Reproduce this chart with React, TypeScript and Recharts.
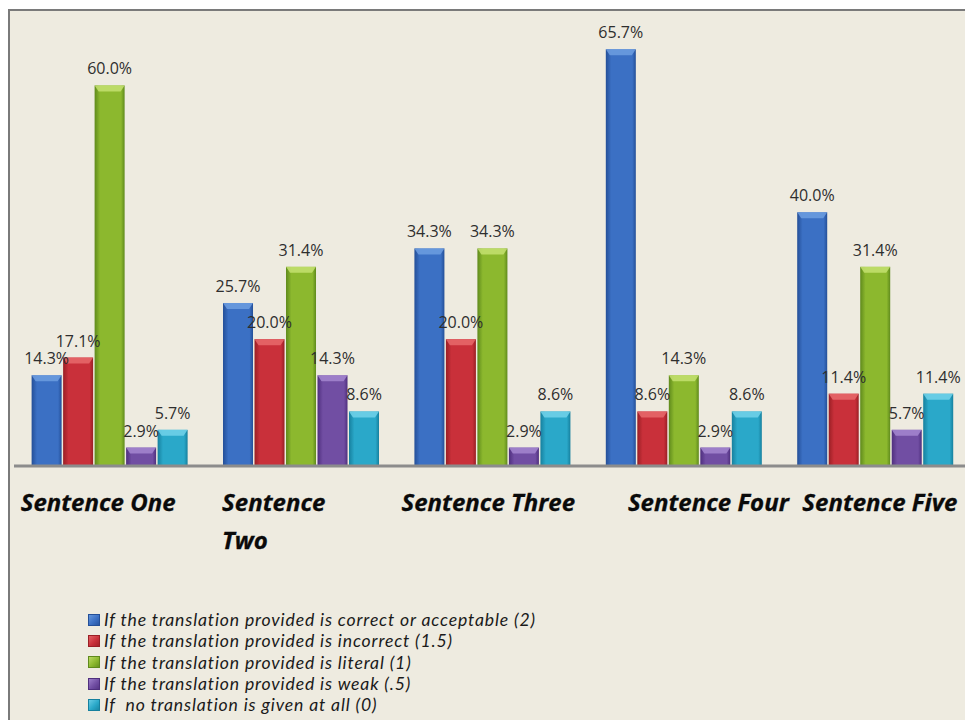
import { BarChart, Bar, XAxis, YAxis, LabelList } from "recharts";

const categories = ["Sentence One", "Sentence Two", "Sentence Three", "Sentence Four", "Sentence Five"];
const correct = [14.3, 25.7, 34.3, 65.7, 40.0];
const incorrect = [17.1, 20.0, 20.0, 8.6, 11.4];
const literal = [60.0, 31.4, 34.3, 14.3, 31.4];
const weak = [2.9, 14.3, 2.9, 2.9, 5.7];
const noTranslation = [5.7, 8.6, 8.6, 8.6, 11.4];

const seriesNames = [
  "If the translation provided is correct or acceptable (2)",
  "If the translation provided is incorrect (1.5)",
  "If the translation provided is literal (1)",
  "If the translation provided is weak (.5)",
  "If  no translation is given at all (0)",
];

const data = categories.map((name, i) => ({
  name,
  correct: correct[i],
  incorrect: incorrect[i],
  literal: literal[i],
  weak: weak[i],
  none: noTranslation[i],
}));

const series = [
  { key: "correct", id: "gBlue", dark: "#244f98", mid: "#3b70c4", light: "#6d9de0" },
  { key: "incorrect", id: "gRed", dark: "#9a1f25", mid: "#c9303a", light: "#e86a6c" },
  { key: "literal", id: "gGreen", dark: "#5f8a1c", mid: "#8cb82e", light: "#c4e070" },
  { key: "weak", id: "gPurple", dark: "#4f2f7e", mid: "#714ea3", light: "#a487d0" },
  { key: "none", id: "gCyan", dark: "#16809e", mid: "#2aa8c9", light: "#72d2ea" },
];

// nudges to copy the uneven label placement of the original
const tickShift = [-89, -79, -91, -56, -73];

const SentenceTick = (props: any) => {
  const { x, y, payload, index } = props;
  const words = payload.value.split(" ");
  const lines = index === 1 ? [words[0], words[1]] : [payload.value];
  return (
    <text
      x={x + tickShift[index]}
      y={y + 45}
      fill="#0a0a0a"
      stroke="#0a0a0a"
      strokeWidth={0.3}
      fontFamily="'Open Sans', sans-serif"
      fontWeight={700}
      fontStyle="italic"
      fontSize={24}
    >
      {lines.map((l, k) => (
        <tspan key={k} x={x + tickShift[index]} dy={k === 0 ? 0 : 38}>
          {l}
        </tspan>
      ))}
    </text>
  );
};

const BevelBar = (props: any) => {
  const { x, y, width, height, fill, light } = props;
  if (!height || height <= 0) return null;
  const b = Math.min(6, height / 2);
  return (
    <g>
      <rect x={x} y={y} width={width} height={height} fill={fill} />
      <polygon
        points={`${x},${y} ${x + width},${y} ${x + width - 4},${y + b} ${x + 4},${y + b}`}
        fill={light}
        opacity={0.85}
      />
    </g>
  );
};

const App = () => {
  return (
    <div style={{ position: "absolute", left: 0, top: 0, width: 965, height: 720, background: "#fff", overflow: "hidden" }}>
      <div
        style={{
          position: "absolute",
          left: 8,
          top: 9,
          right: 0,
          bottom: 0,
          background: "#eeebe0",
          borderLeft: "2px solid #7a7a7a",
          borderTop: "2px solid #7a7a7a",
        }}
      />
      <div style={{ position: "absolute", left: 0, top: 0 }}>
        <BarChart
          width={975}
          height={720}
          data={data}
          margin={{ top: 22, right: 4, bottom: 154, left: 14 }}
          barCategoryGap="9.2%"
          barGap={1.5}
        >
          <defs>
            {series.map((s) => (
              <linearGradient key={s.id} id={s.id} x1="0" y1="0" x2="1" y2="0">
                <stop offset="0%" stopColor={s.dark} />
                <stop offset="18%" stopColor={s.mid} />
                <stop offset="55%" stopColor={s.mid} />
                <stop offset="88%" stopColor={s.mid} />
                <stop offset="100%" stopColor={s.dark} />
              </linearGradient>
            ))}
          </defs>
          <XAxis
            dataKey="name"
            height={100}
            tickSize={0}
            tickMargin={0}
            tickLine={false}
            axisLine={{ stroke: "#8c8c8c", strokeWidth: 3 }}
            tick={<SentenceTick />}
            interval={0}
          />
          <YAxis hide domain={[0, 70]} />
          {series.map((s) => (
            <Bar
              key={s.key}
              dataKey={s.key}
              fill={`url(#${s.id})`}
              isAnimationActive={false}
              shape={(p: any) => <BevelBar {...p} light={s.light} />}
            >
              <LabelList
                dataKey={s.key}
                position="top"
                offset={11}
                formatter={(v: any) => `${Number(v).toFixed(1)}%`}
                style={{ fill: "#2e2e2e", fontSize: 16, fontFamily: "'Open Sans', sans-serif" }}
              />
            </Bar>
          ))}
        </BarChart>
      </div>
      <div
        style={{
          position: "absolute",
          left: 88,
          top: 609,
          fontFamily: "Lato, sans-serif",
          fontStyle: "italic",
          fontSize: 17.6,
          letterSpacing: 0.85,
          color: "#1a1a1a",
          lineHeight: "21.3px",
        }}
      >
        {seriesNames.map((n, i) => (
          <div key={n} style={{ display: "flex", alignItems: "center", whiteSpace: "pre", height: 21.3 }}>
            <span
              style={{
                display: "inline-block",
                width: 12,
                height: 12,
                marginRight: 4,
                background: `linear-gradient(135deg, ${series[i].light}, ${series[i].mid} 55%, ${series[i].dark})`,
                boxShadow: `inset 0 0 0 1px ${series[i].dark}`,
              }}
            />
            {n}
          </div>
        ))}
      </div>
    </div>
  );
};

export default App;
